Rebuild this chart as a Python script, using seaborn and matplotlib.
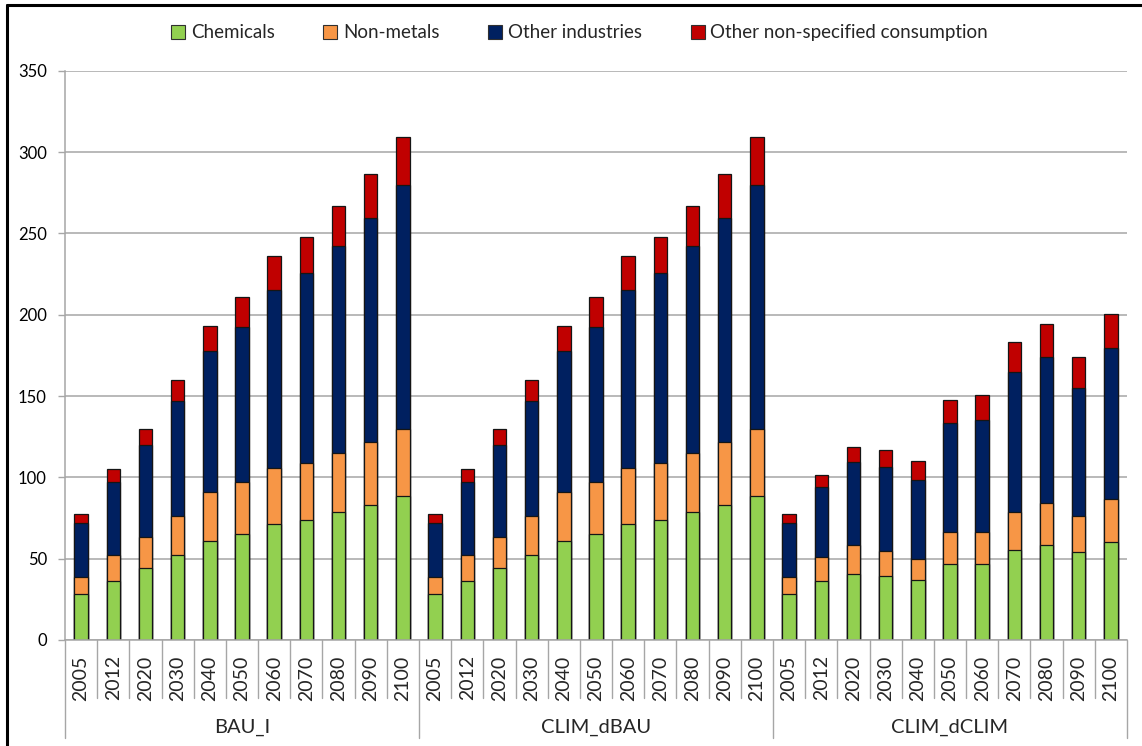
import pandas as pd
import matplotlib.pyplot as plt
import seaborn as sns
from matplotlib.patches import Patch
from matplotlib.lines import Line2D

# Datos
years = ['2005', '2012', '2020', '2030', '2040', '2050', '2060', '2070', '2080', '2090', '2100']
scenarios = ['BAU_I', 'CLIM_dBAU', 'CLIM_dCLIM']
series = ['Chemicals', 'Non-metals', 'Other industries', 'Other non-specified consumption']
colors = ['#92D050', '#F79646', '#002060', '#C00000']

chemicals_bau = [28.5, 36.5, 44, 52, 61, 65, 71.5, 74, 78.5, 83, 88.5]
nonmetals_bau = [10, 15.5, 19.5, 24.5, 30, 32, 34, 35, 36.5, 38.5, 41]
other_ind_bau = [33.5, 45, 56.5, 70.5, 86.5, 95.5, 109.5, 116.5, 127.5, 138, 150.5]
nonspec_bau = [5.5, 8, 10, 13, 15.5, 18.5, 21, 22.5, 24.5, 27, 29]

chemicals_dbau = [28.5, 36.5, 44, 52, 61, 65, 71.5, 74, 78.5, 83, 88.5]
nonmetals_dbau = [10, 15.5, 19.5, 24.5, 30, 32, 34, 35, 36.5, 38.5, 41]
other_ind_dbau = [33.5, 45, 56.5, 70.5, 86.5, 95.5, 109.5, 116.5, 127.5, 138, 150.5]
nonspec_dbau = [5.5, 8, 10, 13, 15.5, 18.5, 21, 22.5, 24.5, 27, 29]

chemicals_dclim = [28.5, 36, 40.5, 39.5, 37, 47, 47, 55.5, 58.5, 54, 60.5]
nonmetals_dclim = [10, 15, 18, 15.5, 12.5, 19.5, 19.5, 23.5, 25.5, 22.5, 26]
other_ind_dclim = [33.5, 43, 51, 51.5, 49, 67, 68.5, 86, 90, 78.5, 93]
nonspec_dclim = [5.5, 7.5, 9, 10.5, 11.5, 14, 15.5, 18.5, 20, 19, 21]

# Tabla larga
rows = []
data_by_scen = {
    'BAU_I': [chemicals_bau, nonmetals_bau, other_ind_bau, nonspec_bau],
    'CLIM_dBAU': [chemicals_dbau, nonmetals_dbau, other_ind_dbau, nonspec_dbau],
    'CLIM_dCLIM': [chemicals_dclim, nonmetals_dclim, other_ind_dclim, nonspec_dclim],
}
for scen in scenarios:
    vals = data_by_scen[scen]
    for i, y in enumerate(years):
        row = {'key': scen + ' ' + y, 'scenario': scen, 'year': y}
        for s, v in zip(series, vals):
            row[s] = v[i]
        rows.append(row)
df = pd.DataFrame(rows)

# Acumulados para apilar
df['cum0'] = df[series[0]]
df['cum1'] = df['cum0'] + df[series[1]]
df['cum2'] = df['cum1'] + df[series[2]]
df['cum3'] = df['cum2'] + df[series[3]]
order = list(df['key'])

sns.set_style('white')
plt.rcParams['font.family'] = ['Lato', 'DejaVu Sans']

fig = plt.figure(figsize=(11.42, 7.46), dpi=100)
ax = fig.add_axes([65 / 1142, 1 - 640 / 746, (1127 - 65) / 1142, (640 - 70.7) / 746])

# Barras: de la mas alta a la mas baja
for k in [3, 2, 1, 0]:
    sns.barplot(data=df, x='key', y='cum%d' % k, order=order, color=colors[k],
                saturation=1, width=0.42, edgecolor='#151515', linewidth=0.9,
                errorbar=None, ax=ax)

ax.set_ylim(0, 350)
ax.set_xlim(-0.5, len(order) - 0.5)
ax.set_yticks(range(0, 351, 50))
ax.yaxis.grid(True, color='#a6a6a6', linewidth=1.1)
ax.set_axisbelow(True)
ax.set_xlabel('')
ax.set_ylabel('')
ax.set_xticks([])
ax.tick_params(axis='y', labelsize=12, length=5, width=1, color='#a6a6a6',
               pad=8, left=True, labelcolor='black')
for side in ['top', 'right']:
    ax.spines[side].set_visible(False)
for side in ['left', 'bottom']:
    ax.spines[side].set_color('#a6a6a6')
    ax.spines[side].set_linewidth(1.1)

# Eje x con dos niveles
tr = ax.get_xaxis_transform()
for i in range(len(order) + 1):
    end = -0.172 if i % len(years) == 0 else -0.102
    ax.plot([i - 0.5, i - 0.5], [0, end], transform=tr, color='#a6a6a6',
            linewidth=1, clip_on=False)
for i, y in enumerate(df['year']):
    ax.text(i, -0.027, y, transform=tr, rotation=90, ha='center', va='top', fontsize=14)
for j, scen in enumerate(scenarios):
    mid = j * len(years) + (len(years) - 1) / 2
    ax.text(mid, -0.153, scen, transform=tr, ha='center', va='center', fontsize=14.5)

# Leyenda
handles = [Patch(facecolor=c, edgecolor='#303030', linewidth=0.8) for c in colors]
fig.legend(handles, series, loc='center', bbox_to_anchor=(0.5075, 0.956), ncol=4,
           frameon=False, fontsize=13.5, handlelength=0.75, handleheight=0.75,
           handletextpad=0.3, columnspacing=2.6)

# Borde del area del grafico
fig.add_artist(Line2D([7 / 1142, 7 / 1142], [0, 1 - 5 / 746], color='black', linewidth=2.2))
fig.add_artist(Line2D([7 / 1142, 1], [1 - 5 / 746, 1 - 5 / 746], color='black', linewidth=2.2))

fig.savefig('out.png', dpi=100)
